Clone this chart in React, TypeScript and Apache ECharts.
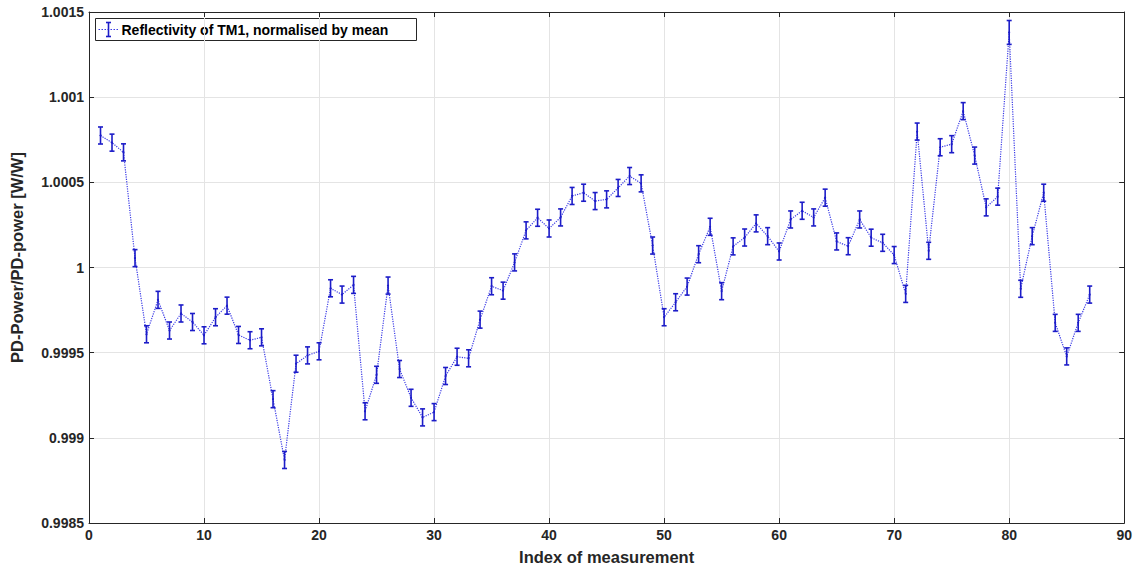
import React, { useEffect, useRef } from "react";
import * as echarts from "echarts";

const indices: number[] = [
  1, 2, 3, 4, 5, 6, 7, 8, 9, 10, 11, 12, 13, 14, 15, 16, 17, 18, 19, 20, 21, 22, 23, 24, 25, 26, 27, 28, 29, 30,
  31, 32, 33, 34, 35, 36, 37, 38, 39, 40, 41, 42, 43, 44, 45, 46, 47, 48, 49, 50, 51, 52, 53, 54, 55, 56, 57, 58,
  59, 60, 61, 62, 63, 64, 65, 66, 67, 68, 69, 70, 71, 72, 73, 74, 75, 76, 77, 78, 79, 80, 81, 82, 83, 84, 85, 86, 87,
];

const reflectivity: number[] = [
  1.000775, 1.000733, 1.000676, 1.000055, 0.999608, 0.99981, 0.99963, 0.99973, 0.99968, 0.999602,
  0.999708, 0.999776, 0.999604, 0.999573, 0.99959, 0.999227, 0.99887, 0.999435, 0.999484, 0.999508,
  0.999878, 0.999841, 0.999898, 0.999156, 0.99937, 0.999894, 0.999404, 0.999235, 0.99912, 0.999151,
  0.999363, 0.999476, 0.999467, 0.999694, 0.99989, 0.999864, 1.00003, 1.000218, 1.000292, 1.000229,
  1.000294, 1.00042, 1.000439, 1.00039, 1.0004, 1.000467, 1.000537, 1.000494, 1.000129, 0.999708,
  0.999796, 0.999888, 1.000078, 1.000239, 0.999861, 1.000124, 1.000176, 1.000259, 1.000184, 1.000094,
  1.000282, 1.000333, 1.000294, 1.00041, 1.000153, 1.000125, 1.000282, 1.000175, 1.000145, 1.000073,
  0.999845, 1.000798, 1.000098, 1.000706, 1.000724, 1.000918, 1.000657, 1.000353, 1.000416, 1.00138,
  0.999875, 1.000184, 1.000439, 0.999675, 0.999478, 0.999675, 0.999841,
];

const errors: number[] = [
  0.00005, 0.00005, 0.00005, 0.00005, 0.00005, 0.00005, 0.00005, 0.00005, 0.00005, 0.00005,
  0.00005, 0.00005, 0.00005, 0.00005, 0.00005, 0.00005, 0.00005, 0.00005, 0.00005, 0.00005,
  0.00005, 0.00005, 0.00005, 0.00005, 0.00005, 0.00005, 0.00005, 0.00005, 0.00005, 0.00005,
  0.00005, 0.00005, 0.00005, 0.00005, 0.00005, 0.00005, 0.00005, 0.00005, 0.00005, 0.00005,
  0.00005, 0.00005, 0.00005, 0.00005, 0.00005, 0.00005, 0.00005, 0.00005, 0.00005, 0.00005,
  0.00005, 0.00005, 0.00005, 0.00005, 0.00005, 0.00005, 0.00005, 0.00005, 0.00005, 0.00005,
  0.00005, 0.00005, 0.00005, 0.00005, 0.00005, 0.00005, 0.00005, 0.00005, 0.00005, 0.00005,
  0.00005, 0.00005, 0.00005, 0.00005, 0.00005, 0.00005, 0.00005, 0.00005, 0.00005, 0.00007,
  0.00005, 0.00005, 0.00005, 0.00005, 0.00005, 0.00005, 0.00005,
];

const xTitle = "Index of measurement";
const yTitle = "PD-Power/PD-power [W/W]";
const legendLabel = "Reflectivity of TM1, normalised by mean";

const FONT = "'Liberation Sans', Arial, Helvetica, sans-serif";
const AXIS_COLOR = "#262626";
const GRID_COLOR = "#e4e4e4";
const LINE_COLOR = "#3a3ae6";
const BAR_COLOR = "#1c1cc8";

export default function App() {
  const ref = useRef<HTMLDivElement>(null);

  useEffect(() => {
    if (!ref.current) return;
    const chart = echarts.init(ref.current, undefined, { renderer: "svg" });

    const lineData = indices.map((x, i) => [x, reflectivity[i]]);
    const errData = indices.map((x, i) => [x, reflectivity[i] - errors[i], reflectivity[i] + errors[i]]);

    const labelStyle = {
      color: AXIS_COLOR,
      fontWeight: "bold" as const,
      fontSize: 14,
      fontFamily: FONT,
    };

    const yFmt = (v: number) => String(parseFloat(v.toFixed(4)));

    const option: any = {
      animation: false,
      backgroundColor: "#ffffff",
      grid: { left: 87, right: 6, top: 12, bottom: 45, containLabel: false },
      xAxis: [
        {
          type: "value",
          min: 0,
          max: 90,
          interval: 10,
          position: "bottom",
          axisLine: { onZero: false, lineStyle: { color: AXIS_COLOR, width: 1 } },
          axisTick: { inside: true, length: 5, lineStyle: { color: AXIS_COLOR } },
          axisLabel: { ...labelStyle, margin: 5 },
          splitLine: { show: true, lineStyle: { color: GRID_COLOR, width: 1 } },
          name: xTitle,
          nameLocation: "middle",
          nameGap: 25,
          nameTextStyle: { ...labelStyle, fontSize: 16.5 },
        },
        {
          type: "value",
          min: 0,
          max: 90,
          interval: 10,
          position: "top",
          axisLine: { onZero: false, lineStyle: { color: AXIS_COLOR, width: 1 } },
          axisTick: { inside: true, length: 5, lineStyle: { color: AXIS_COLOR } },
          axisLabel: { show: false },
          splitLine: { show: false },
        },
      ],
      yAxis: [
        {
          type: "value",
          min: 0.9985,
          max: 1.0015,
          interval: 0.0005,
          position: "left",
          axisLine: { onZero: false, lineStyle: { color: AXIS_COLOR, width: 1 } },
          axisTick: { inside: true, length: 5, lineStyle: { color: AXIS_COLOR } },
          axisLabel: { ...labelStyle, margin: 5, formatter: yFmt },
          splitLine: { show: true, lineStyle: { color: GRID_COLOR, width: 1 } },
          name: yTitle,
          nameLocation: "middle",
          nameGap: 64,
          nameTextStyle: { ...labelStyle, fontSize: 16.5, padding: [0, 0, 0, 20] },
        },
        {
          type: "value",
          min: 0.9985,
          max: 1.0015,
          interval: 0.0005,
          position: "right",
          axisLine: { onZero: false, lineStyle: { color: AXIS_COLOR, width: 1 } },
          axisTick: { inside: true, length: 5, lineStyle: { color: AXIS_COLOR } },
          axisLabel: { show: false },
          splitLine: { show: false },
        },
      ],
      series: [
        {
          type: "line",
          name: legendLabel,
          data: lineData,
          symbol: "none",
          lineStyle: { color: LINE_COLOR, width: 1.2, type: "dotted" },
          z: 2,
        },
        {
          type: "custom",
          name: "errorbars",
          data: errData,
          encode: { x: 0, y: [1, 2] },
          z: 3,
          renderItem: (params: any, api: any) => {
            const x = api.value(0);
            const lo = api.coord([x, api.value(1)]);
            const hi = api.coord([x, api.value(2)]);
            const mid = api.coord([x, (api.value(1) + api.value(2)) / 2]);
            const cap = 2.5;
            const style = { stroke: BAR_COLOR, lineWidth: 1.6, fill: "none" };
            return {
              type: "group",
              children: [
                { type: "line", shape: { x1: lo[0], y1: lo[1], x2: hi[0], y2: hi[1] }, style },
                { type: "line", shape: { x1: lo[0] - cap, y1: lo[1], x2: lo[0] + cap, y2: lo[1] }, style },
                { type: "line", shape: { x1: hi[0] - cap, y1: hi[1], x2: hi[0] + cap, y2: hi[1] }, style },
                { type: "circle", shape: { cx: mid[0], cy: mid[1], r: 1 }, style: { fill: BAR_COLOR } },
              ],
            };
          },
        },
      ],
      graphic: [
        {
          type: "group",
          left: 95,
          top: 18,
          children: [
            {
              type: "rect",
              shape: { x: 0, y: 0, width: 321, height: 22 },
              style: { fill: "#ffffff", stroke: AXIS_COLOR, lineWidth: 1 },
            },
            {
              type: "line",
              shape: { x1: 3, y1: 11, x2: 23, y2: 11 },
              style: { stroke: LINE_COLOR, lineWidth: 1.2, lineDash: [1.5, 1.5] },
            },
            {
              type: "line",
              shape: { x1: 13, y1: 4, x2: 13, y2: 18 },
              style: { stroke: BAR_COLOR, lineWidth: 1.6 },
            },
            {
              type: "line",
              shape: { x1: 10.5, y1: 4, x2: 15.5, y2: 4 },
              style: { stroke: BAR_COLOR, lineWidth: 1.6 },
            },
            {
              type: "line",
              shape: { x1: 10.5, y1: 18, x2: 15.5, y2: 18 },
              style: { stroke: BAR_COLOR, lineWidth: 1.6 },
            },
            {
              type: "text",
              x: 26,
              y: 11,
              style: {
                text: legendLabel,
                fill: "#000000",
                font: `bold 14px ${FONT}`,
                verticalAlign: "middle",
                align: "left",
              },
            },
          ],
        },
      ],
    };

    chart.setOption(option);
    return () => chart.dispose();
  }, []);

  return (
    <div
      ref={ref}
      style={{ position: "absolute", left: 0, top: 0, width: 1135, height: 570 }}
    />
  );
}
